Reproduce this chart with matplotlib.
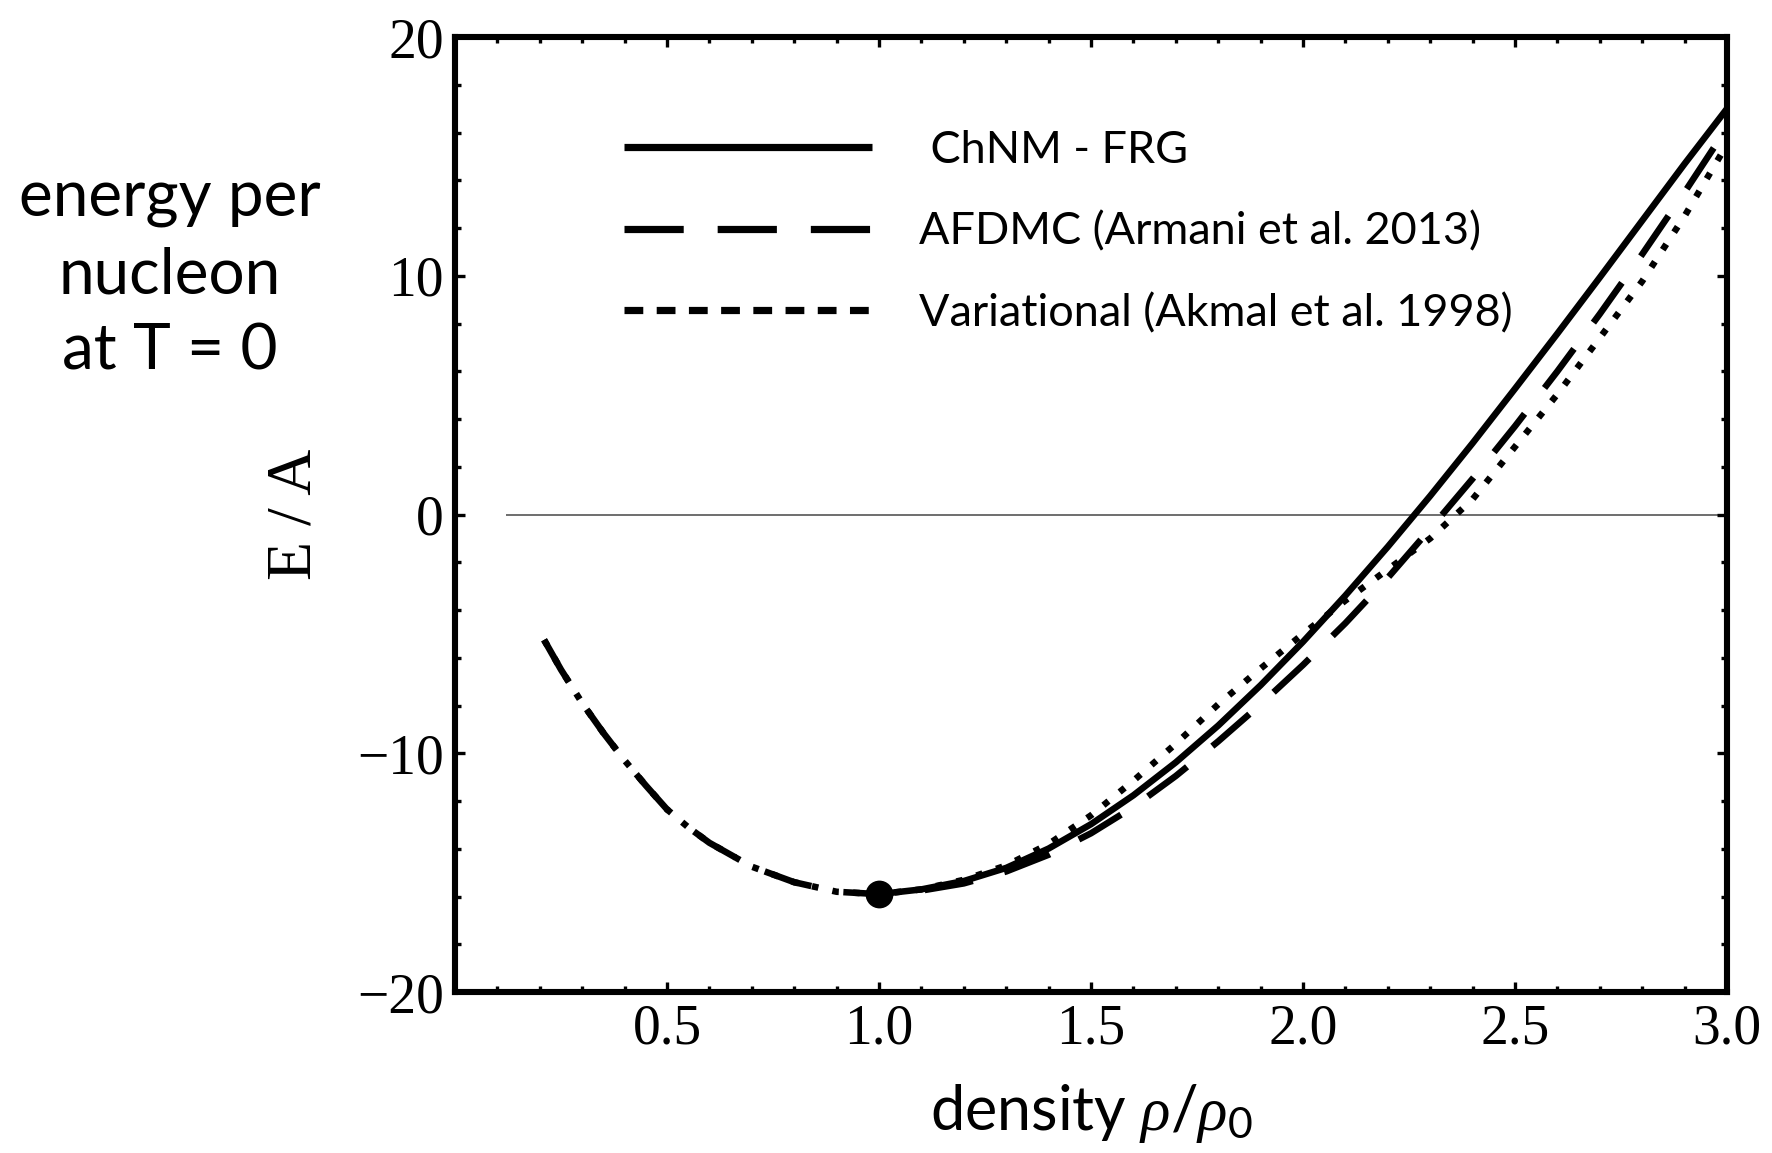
import matplotlib
matplotlib.use("Agg")
import matplotlib.pyplot as plt
from matplotlib.ticker import MultipleLocator

plt.rcParams['mathtext.fontset'] = 'custom'
plt.rcParams['mathtext.rm'] = 'Lato'
plt.rcParams['mathtext.it'] = 'Liberation Serif:italic'

# low density branch, AFDMC and variational lie on top of each other here
rho_low = [0.21, 0.25, 0.3, 0.35, 0.4, 0.45, 0.5, 0.55, 0.6, 0.7, 0.8, 0.9]
e_low = [-5.25, -6.5, -7.9, -9.15, -10.3, -11.35, -12.35, -13.1, -13.75, -14.75, -15.4, -15.8]

# rho / rho0 from saturation upwards
rho_hi = [1.0, 1.1, 1.2, 1.3, 1.4, 1.5, 1.6, 1.7, 1.8, 1.9, 2.0,
          2.1, 2.2, 2.3, 2.4, 2.5, 2.6, 2.7, 2.8, 2.9, 3.0]
e_frg = [-15.9, -15.7, -15.35, -14.8, -13.99, -12.97, -11.76, -10.38, -8.84, -7.15, -5.33,
         -3.39, -1.35, 0.78, 2.99, 5.27, 7.58, 9.93, 12.31, 14.69, 17.0]
e_afdmc = [-15.9, -15.75, -15.45, -14.95, -14.25, -13.35, -12.25, -10.95, -9.5, -7.95, -6.3,
           -4.55, -2.65, -0.6, 1.5, 3.7, 6.0, 8.4, 10.9, 13.5, 16.2]
e_var = [-15.9, -15.7, -15.3, -14.7, -13.8, -12.6, -11.15, -9.6, -7.95, -6.45, -5.0,
         -3.6, -2.3, -1.0, 0.64, 2.84, 5.04, 7.4, 9.77, 12.5, 15.5]

sat_rho = [1.0]
sat_e = [-15.9]

labels = [' ChNM - FRG', 'AFDMC (Armani et al. 2013)', 'Variational (Akmal et al. 1998)']

xticks = [0.5, 1.0, 1.5, 2.0, 2.5, 3.0]
yticks = [-20, -10, 0, 10, 20]

fig = plt.figure(figsize=(8.86, 5.765), dpi=200)
ax = fig.add_axes([0.2568, 0.1396, 0.7178, 0.8283])

lw = 2.35
ax.hlines(0, 0.12, 3.0, color='#555555', lw=0.6, zorder=1)
ax.plot(rho_hi, e_frg, color='black', lw=lw, label=labels[0], solid_capstyle='butt')
ax.plot(rho_low + rho_hi, e_low + e_afdmc, color='black', lw=lw, dashes=(7.5, 5.0),
        dash_capstyle='butt', label=labels[1])
ax.plot(rho_low + rho_hi, e_low + e_var, color='black', lw=lw, dashes=(1.0, 2.2),
        dash_capstyle='butt', label=labels[2])
ax.plot(sat_rho, sat_e, 'o', color='black', ms=9, zorder=5)

ax.set_xlim(0, 3.0)
ax.set_ylim(-20, 20)

ax.set_xticks(xticks, labels=[f'{t:.1f}' for t in xticks])
ax.set_yticks(yticks, labels=[str(t).replace('-', '\u2212') for t in yticks])
ax.xaxis.set_minor_locator(MultipleLocator(0.1))
ax.yaxis.set_minor_locator(MultipleLocator(2))
ax.tick_params(which='both', direction='in', top=True, right=True, width=1.2)
ax.tick_params(which='major', length=3.6, pad=4)
ax.tick_params(which='minor', length=2.2)
for lab in ax.get_xticklabels() + ax.get_yticklabels():
    lab.set_fontfamily('Liberation Serif')
    lab.set_fontsize(20)
for s in ax.spines.values():
    s.set_linewidth(2.2)

ax.set_ylabel('E / A', family='Liberation Serif', fontsize=23)
ax.yaxis.set_label_coords(-0.103, 0.5)
ax.set_xlabel(r'density $\rho/\rho_0$', family='Lato', fontsize=22)
ax.xaxis.set_label_coords(0.5, -0.094)

leg = ax.legend(loc='upper left', bbox_to_anchor=(0.133, 0.903), frameon=False,
                prop={'family': 'Lato', 'size': 16.2}, handlelength=5.5, handletextpad=1.05,
                labelspacing=0.9, borderpad=0, borderaxespad=0)
# legend keys are drawn a bit heavier, with their own dash lengths
hl = leg.get_lines()
for h in hl:
    h.set_linewidth(2.6)
hl[1].set_dashes((8.2, 4.7))
hl[2].set_dashes((2.6, 1.86))

fig.text(0.096, 0.761, 'energy per\nnucleon\nat T = 0', family='Lato', fontsize=23,
         ha='center', va='center', multialignment='center', linespacing=1.39)

fig.savefig('out.png', dpi=200)
